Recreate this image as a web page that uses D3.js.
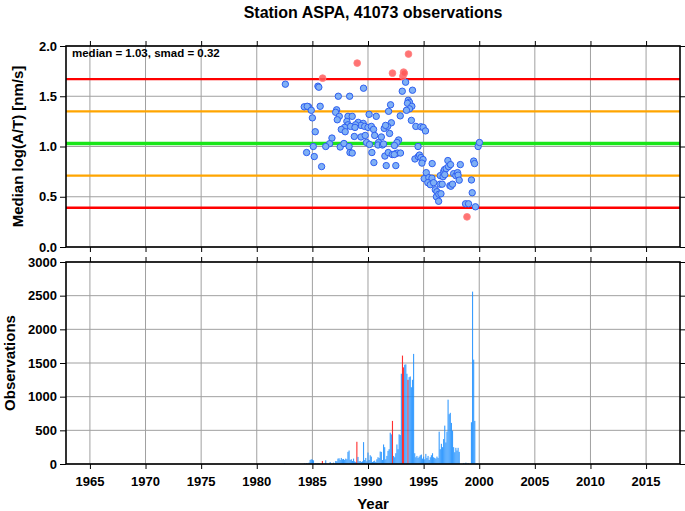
<!DOCTYPE html>
<html>
<head>
<meta charset="utf-8">
<script src="https://cdn.jsdelivr.net/npm/d3@7"></script>
<style>
  html, body { margin: 0; padding: 0; background: #fff; }
  svg text { font-family: "Liberation Sans", Arial, Helvetica, sans-serif; font-weight: bold; fill: #000; }
</style>
</head>
<body>
<svg id="chart" width="685" height="511"></svg>
<script>
// ---------- data ----------
const titleText = "Station ASPA, 41073 observations";
const medianVal = 1.03;
const smadVal = 0.32;

const xTickYears = [1965, 1970, 1975, 1980, 1985, 1990, 1995, 2000, 2005, 2010, 2015];
const topTicks = [0.0, 0.5, 1.0, 1.5, 2.0];
const bottomTicks = [0, 500, 1000, 1500, 2000, 2500, 3000];

// normal (within 2 smad) median points
const normYear = [
  1982.57, 1985.50, 1985.58, 1987.33, 1988.35, 1984.27, 1984.66, 1984.54, 1984.90, 1985.70,
  1985.00, 1985.26, 1987.18, 1987.09, 1987.42, 1987.24, 1988.20, 1988.10, 1988.20, 1987.90,
  1987.60, 1987.95, 1986.76, 1986.55, 1985.08, 1986.20, 1987.50, 1987.84, 1988.30, 1984.48,
  1985.17, 1985.83, 1988.38,
  1993.38, 1989.60, 1993.08, 1994.00, 1993.62, 1993.73, 1993.55, 1992.03, 1993.94, 1993.73,
  1993.46, 1991.85, 1992.90, 1988.58, 1990.10, 1990.74, 1993.90, 1992.10, 1994.30, 1994.75,
  1994.96, 1995.17, 1989.12, 1989.57, 1989.37, 1988.88, 1988.43, 1988.83, 1989.70, 1990.00,
  1990.30, 1991.46, 1991.76, 1991.58, 1990.50, 1991.94, 1988.77, 1989.37, 1989.75, 1990.60,
  1991.20, 1992.75, 1992.60, 1989.87, 1990.14, 1990.95, 1990.90, 1991.30, 1991.40, 1992.38,
  1994.50, 1988.58, 1990.35, 1991.52, 1991.82, 1992.18, 1992.50, 1992.65, 1992.92, 1992.36,
  1994.22, 1994.52, 1994.63, 1994.76, 1990.53, 1991.64, 1992.50,
  1994.95, 1994.85, 1995.77, 1995.24, 1995.05, 1995.47, 1995.75, 1995.38, 1995.60, 1995.90,
  1996.05, 1996.20, 1996.15, 1996.37, 1996.56, 1996.35, 1996.47, 1996.67, 1996.50, 1996.75,
  1996.80, 1996.88, 1997.03, 1996.90, 1997.18, 1997.24, 1997.42, 1997.36, 1997.45, 1997.60,
  1997.70, 1997.90, 1998.05, 1998.10, 1998.20, 1998.30, 1999.30, 1999.37, 1999.50, 1999.58,
  1998.77, 1999.04, 1999.66, 1999.90, 2000.02
];
const normVal = [
  1.62, 1.60, 1.59, 1.50, 1.50, 1.395, 1.395, 1.40, 1.36, 1.40,
  1.285, 1.147, 1.365, 1.34, 1.30, 1.266, 1.30, 1.25, 1.216, 1.19,
  1.17, 1.147, 1.084, 1.028, 1.00, 1.00, 0.995, 1.03, 1.00, 0.94,
  0.90, 0.80, 0.94,
  1.64, 1.58, 1.55, 1.56, 1.46, 1.44, 1.43, 1.415, 1.40, 1.375,
  1.36, 1.35, 1.305, 1.30, 1.32, 1.30, 1.26, 1.236, 1.20, 1.196,
  1.19, 1.155, 1.24, 1.23, 1.21, 1.216, 1.20, 1.19, 1.20, 1.19,
  1.20, 1.18, 1.20, 1.21, 1.17, 1.13, 1.10, 1.095, 1.11, 1.11,
  1.095, 1.065, 1.04, 1.04, 1.02, 1.04, 1.015, 1.015, 1.025, 1.01,
  1.00, 0.935, 0.94, 0.905, 0.94, 0.92, 0.93, 0.935, 0.935, 0.92,
  0.876, 0.90, 0.915, 0.89, 0.84, 0.81, 0.81,
  0.87, 0.835, 0.83, 0.74, 0.68, 0.69, 0.685, 0.64, 0.62, 0.64,
  0.57, 0.55, 0.50, 0.525, 0.53, 0.455, 0.625, 0.625, 0.71, 0.70,
  0.75, 0.77, 0.78, 0.72, 0.86, 0.80, 0.82, 0.61, 0.605, 0.625,
  0.73, 0.71, 0.74, 0.715, 0.665, 0.82, 0.667, 0.54, 0.855, 0.83,
  0.43, 0.43, 0.40, 1.00, 1.04
];

// outlier (beyond 2 smad) median points
const outYear = [1985.92, 1989.03, 1992.20, 1993.14, 1993.20, 1993.26, 1993.64, 1998.90];
const outVal  = [1.68, 1.83, 1.73, 1.70, 1.74, 1.73, 1.92, 0.30];

// observation counts per bin (bin centre year, count, outlier flag)
const barYear = [
  1982.5, 1984.3, 1984.5, 1984.7, 1984.8, 1984.9, 1985.0, 1985.1, 1985.3, 1985.5, 1985.6,
  1985.9, 1986.2, 1986.6, 1986.9,
  1987.1, 1987.2, 1987.3, 1987.4, 1987.5, 1987.6, 1987.7, 1987.8, 1987.9, 1988.0,
  1988.1, 1988.2, 1988.3, 1988.4, 1988.5, 1988.6, 1988.7, 1988.8, 1988.9,
  1989.0, 1989.1, 1989.2, 1989.3, 1989.4, 1989.5, 1989.6, 1989.7, 1989.8, 1989.9,
  1990.0, 1990.1, 1990.2, 1990.3, 1990.4, 1990.5, 1990.6, 1990.7, 1990.8, 1990.9,
  1991.0, 1991.1, 1991.2, 1991.3, 1991.4, 1991.5, 1991.6, 1991.7, 1991.8, 1991.9,
  1992.0, 1992.1, 1992.2, 1992.3, 1992.4, 1992.5, 1992.6, 1992.7, 1992.8, 1992.9,
  1993.0, 1993.1, 1993.2, 1993.3, 1993.4, 1993.5, 1993.6, 1993.7, 1993.8, 1993.9,
  1994.0, 1994.1, 1994.2, 1994.3, 1994.4, 1994.5, 1994.6, 1994.7, 1994.8, 1994.9,
  1995.0, 1995.1, 1995.2, 1995.3, 1995.4, 1995.5, 1995.6, 1995.7, 1995.8, 1995.9,
  1996.0, 1996.1, 1996.2, 1996.3, 1996.4, 1996.5, 1996.6, 1996.7, 1996.8, 1996.9,
  1997.0, 1997.1, 1997.2, 1997.3, 1997.4, 1997.5, 1997.6, 1997.7, 1997.8, 1997.9,
  1998.0, 1998.1, 1998.2, 1998.6, 1998.8, 1999.0,
  1999.3, 1999.4, 1999.5, 1999.6, 1999.8
];
const barCount = [
  10, 10, 15, 20, 60, 70, 65, 55, 10, 10, 12,
  45, 55, 30, 20,
  45, 40, 80, 85, 60, 90, 70, 75, 60, 80,
  70, 180, 200, 60, 70, 45, 80, 40, 30,
  330, 105, 40, 45, 30, 40, 325, 60, 90, 40,
  170, 60, 130, 110, 30, 40, 50, 30, 70, 100,
  90, 185, 180, 60, 290, 250, 70, 120, 195, 220,
  465, 440, 640, 120, 100, 160, 290, 220, 440, 430,
  1340, 1610, 1435, 1475, 1480, 1340, 1250, 1290, 1300, 1140,
  1250, 1635, 160, 100, 120, 90, 110, 130, 140, 80,
  110, 70, 150, 90, 120, 60, 100, 130, 160, 100,
  90, 80, 110, 90, 480, 220, 300, 250, 370, 570,
  320, 480, 955, 740, 760, 610, 495, 250, 175, 240,
  200, 240, 180, 15, 20, 15,
  620, 2560, 1550, 640, 10
];
const barOutlier = [
  0, 0, 0, 0, 0, 0, 0, 0, 0, 0, 0,
  1, 0, 0, 0,
  0, 0, 0, 0, 0, 0, 0, 0, 0, 0,
  0, 0, 0, 0, 0, 0, 0, 0, 0,
  1, 0, 0, 0, 0, 0, 0, 0, 0, 0,
  0, 0, 0, 0, 0, 0, 0, 0, 0, 0,
  0, 0, 0, 0, 0, 0, 0, 0, 0, 0,
  0, 0, 1, 0, 0, 0, 0, 0, 0, 0,
  0, 1, 1, 0, 0, 0, 1, 0, 0, 0,
  0, 0, 0, 0, 0, 0, 0, 0, 0, 0,
  0, 0, 0, 0, 0, 0, 0, 0, 0, 0,
  0, 0, 0, 0, 0, 0, 0, 0, 0, 0,
  0, 0, 0, 0, 0, 0, 0, 0, 0, 0,
  0, 0, 0, 0, 0, 0,
  0, 0, 0, 0, 0
];

// ---------- chart ----------
const svg = d3.select("#chart");
const L = 66, R = 680;
const topP = { t: 46, b: 247 };
const botP = { t: 262, b: 464 };

const x = d3.scaleLinear().domain([1962.85, 2018.05]).range([L, R]);
const yTop = d3.scaleLinear().domain([0, 2]).range([topP.b, topP.t]);
const yBot = d3.scaleLinear().domain([0, 3000]).range([botP.b, botP.t]);

const gridColor = "#a0a0a0";

// title
svg.append("text").attr("x", (L + R) / 2).attr("y", 18).attr("text-anchor", "middle")
  .style("font-size", "16px").text(titleText);

function panelGrid(yScale, yTicks, p) {
  const g = svg.append("g");
  g.selectAll("line.v").data(xTickYears).enter().append("line")
    .attr("x1", d => x(d)).attr("x2", d => x(d)).attr("y1", p.t).attr("y2", p.b)
    .attr("stroke", gridColor).attr("stroke-width", 1);
  g.selectAll("line.h").data(yTicks).enter().append("line")
    .attr("x1", L).attr("x2", R).attr("y1", d => yScale(d)).attr("y2", d => yScale(d))
    .attr("stroke", gridColor).attr("stroke-width", 1);
}

function panelFrame(yScale, yTicks, p, fmt) {
  const g = svg.append("g");
  // left axis
  const la = svg.append("g").attr("transform", `translate(${L},0)`)
    .call(d3.axisLeft(yScale).tickValues(yTicks).tickFormat(fmt).tickSize(6).tickPadding(3));
  la.select(".domain").remove();
  la.selectAll("line").attr("stroke", "#000").attr("stroke-width", 1);
  la.selectAll("text").style("font-size", "13px").style("font-family", '"Liberation Sans", Arial, sans-serif').style("font-weight", "bold");
  // right ticks
  const ra = svg.append("g").attr("transform", `translate(${R},0)`)
    .call(d3.axisRight(yScale).tickValues(yTicks).tickFormat("").tickSize(5));
  ra.select(".domain").remove();
  ra.selectAll("line").attr("stroke", "#000");
  // top ticks
  const ta = svg.append("g").attr("transform", `translate(0,${p.t})`)
    .call(d3.axisTop(x).tickValues(xTickYears).tickFormat("").tickSize(5));
  ta.select(".domain").remove();
  ta.selectAll("line").attr("stroke", "#000");
  // bottom ticks
  const ba = svg.append("g").attr("transform", `translate(0,${p.b})`)
    .call(d3.axisBottom(x).tickValues(xTickYears).tickFormat("").tickSize(5));
  ba.select(".domain").remove();
  ba.selectAll("line").attr("stroke", "#000");
  // frame
  g.append("rect").attr("x", L).attr("y", p.t).attr("width", R - L).attr("height", p.b - p.t)
    .attr("fill", "none").attr("stroke", "#000").attr("stroke-width", 1.6);
}

// ---- top panel ----
panelGrid(yTop, topTicks, topP);

const refLines = [
  { v: medianVal + 2 * smadVal, c: "#ff0000", w: 2.4 },
  { v: medianVal - 2 * smadVal, c: "#ff0000", w: 2.4 },
  { v: medianVal + smadVal, c: "#ffa500", w: 2.2 },
  { v: medianVal - smadVal, c: "#ffa500", w: 2.2 },
  { v: medianVal, c: "#19e619", w: 3.4 }
];
svg.append("g").selectAll("line").data(refLines).enter().append("line")
  .attr("x1", L).attr("x2", R).attr("y1", d => yTop(d.v)).attr("y2", d => yTop(d.v))
  .attr("stroke", d => d.c).attr("stroke-width", d => d.w);

const normPts = normYear.map((yr, i) => ({ yr, v: normVal[i] }));
const outPts = outYear.map((yr, i) => ({ yr, v: outVal[i] }));

svg.append("g").selectAll("circle").data(normPts).enter().append("circle")
  .attr("cx", d => x(d.yr)).attr("cy", d => yTop(d.v)).attr("r", 3.2)
  .attr("fill", "#7fb0f5").attr("stroke", "#2f5ff0").attr("stroke-width", 1);

svg.append("g").selectAll("circle").data(outPts).enter().append("circle")
  .attr("cx", d => x(d.yr)).attr("cy", d => yTop(d.v)).attr("r", 3.4)
  .attr("fill", "#ff5a5a").attr("fill-opacity", 0.85)
  .attr("stroke", "#ff8080").attr("stroke-width", 0.8);

svg.append("text").attr("x", 72).attr("y", 57).style("font-size", "11.5px")
  .text(`median = ${medianVal.toFixed(2)}, smad = ${smadVal.toFixed(2)}`);

panelFrame(yTop, topTicks, topP, d3.format(".1f"));

// ---- bottom panel ----
panelGrid(yBot, bottomTicks, botP);

const bars = barYear.map((yr, i) => ({ yr, n: barCount[i], out: barOutlier[i] === 1 }));
const bw = x(1.1) - x(1.0);
svg.append("g").selectAll("rect").data(bars).enter().append("rect")
  .attr("x", d => x(d.yr) - bw / 2).attr("width", bw)
  .attr("y", d => yBot(d.n)).attr("height", d => yBot(0) - yBot(d.n))
  .attr("fill", d => d.out ? "#ff1a1a" : "#1e8fff")
  .attr("fill-opacity", d => d.out ? 0.9 : 0.88);

panelFrame(yBot, bottomTicks, botP, d3.format("d"));

// x tick labels
svg.append("g").selectAll("text").data(xTickYears).enter().append("text")
  .attr("x", d => x(d)).attr("y", 486).attr("text-anchor", "middle")
  .style("font-size", "13px").text(d => d);

// axis titles
svg.append("text").attr("x", (L + R) / 2).attr("y", 509).attr("text-anchor", "middle")
  .style("font-size", "15px").text("Year");

svg.append("text").attr("transform", `translate(23,${(topP.t + topP.b) / 2}) rotate(-90)`)
  .attr("text-anchor", "middle").style("font-size", "15px").text("Median log(A/T) [nm/s]");

svg.append("text").attr("transform", `translate(15,${(botP.t + botP.b) / 2}) rotate(-90)`)
  .attr("text-anchor", "middle").style("font-size", "15px").text("Observations");
</script>
</body>
</html>
